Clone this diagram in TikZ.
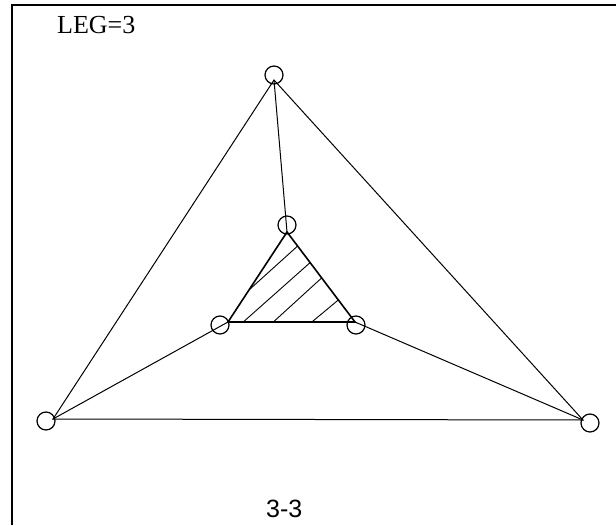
\documentclass[tikz,border=0pt]{standalone}
\usepackage{fontspec}
\setmainfont{Liberation Serif}
\newfontfamily\labelsans{Liberation Sans}
\usepackage{tikz}
\usetikzlibrary{calc}

\begin{document}
\begin{tikzpicture}[
    x=1pt, y=-1pt,
    joint/.style={circle, draw, line width=1.2pt, fill=none, minimum size=18pt, inner sep=0pt},
    edge/.style={line width=1pt, draw=black},
    inner/.style={line width=1.6pt, draw=black},
    hatch/.style={line width=0.9pt, draw=black},
    frame/.style={line width=2pt, draw=black},
    caption/.style={anchor=base west, inner sep=0pt}
]
    \useasboundingbox (0,0) rectangle (616,525);

    % Frame and labels
    \draw [frame] (12,525) -- (12,5) -- (616,5);
    \node (leg) [caption, font=\fontsize{26}{30}\selectfont] at (57,33) {LEG=3};
    \node (name) [caption, font=\labelsans\fontsize{25}{30}\selectfont] at (266,517) {3-3};

    % Outer vertices
    \coordinate (top) at (274,80);
    \coordinate (left) at (53,419);
    \coordinate (right) at (583,420);

    % Inner vertices
    \coordinate (itop) at (287,232);
    \coordinate (ileft) at (228,322);
    \coordinate (iright) at (355,322);

    % Joints
    \node (jtop) [joint] at (274,75) {};
    \node (jleft) [joint] at (46,421) {};
    \node (jright) [joint] at (590,423) {};
    \node (jitop) [joint] at (287,225) {};
    \node (jileft) [joint] at (220,325) {};
    \node (jiright) [joint] at (356,325) {};

    % Outer triangle and spokes
    \draw [edge] (top) -- (left) -- (right) -- cycle;
    \draw [edge] (top) -- (itop);
    \draw [edge] (ileft) -- (left);
    \draw [edge] (iright) -- (right);

    % Hatched inner triangle
    \draw [hatch] ($(itop)!0.644!(ileft)$) -- ($(itop)!0.156!(iright)$);
    \draw [hatch] ($(ileft)!0.12!(iright)$) -- ($(itop)!0.34!(iright)$);
    \draw [hatch] ($(ileft)!0.357!(iright)$) -- ($(itop)!0.51!(iright)$);
    \draw [hatch] ($(ileft)!0.66!(iright)$) -- ($(itop)!0.755!(iright)$);
    \draw [inner] (itop) -- (ileft) -- (iright) -- cycle;

\end{tikzpicture}
\end{document}
